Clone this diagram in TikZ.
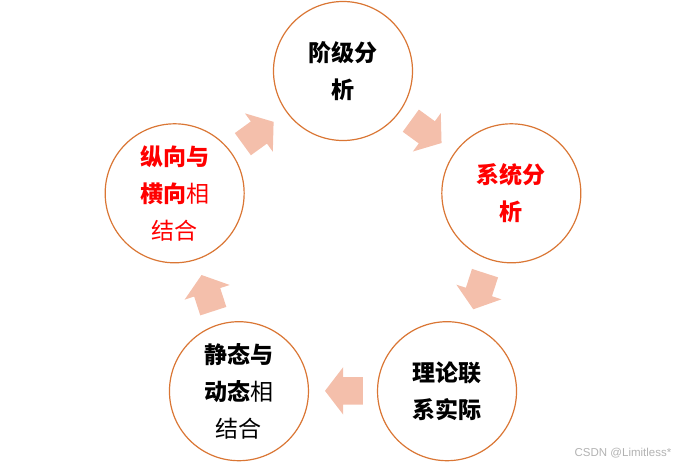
\documentclass[tikz,border=0pt]{standalone}
\usepackage{fontspec}
\usepackage{xcolor}
\usepackage{tikz}
\usetikzlibrary{shapes.arrows}
\newfontfamily\cjk{Noto Sans CJK SC}
\newfontfamily\marksans{Liberation Sans}
\definecolor{ring}{HTML}{DA7634}
\definecolor{flow}{HTML}{F4BFAB}
\definecolor{hot}{HTML}{FF0000}

\begin{document}
\begin{tikzpicture}[x=1pt, y=1pt,
    stage/.style={circle, draw=ring, line width=1.2pt, fill=white, minimum size=139pt, inner sep=0pt, align=center, font=\cjk\fontsize{23}{37}\selectfont},
    flowarrow/.style={single arrow, fill=flow, draw=none, inner xsep=0pt, inner ysep=13.5pt, single arrow head extend=10pt, single arrow tip angle=105, minimum height=38pt}
]
    \useasboundingbox (-343,-219) rectangle (343,248);

    % the five stages, clockwise from the top
    \node[stage] (jieji) at (90:177) {\textbf{阶级分}\\\textbf{析}};
    \node[stage, text=hot] (xitong) at (18:177) {\textbf{系统分}\\\textbf{析}};
    \node[stage] (lilun) at (-54:177) {\textbf{理论联}\\\textbf{系实际}};
    \node[stage] (jingtai) at (-126:177) {\textbf{静态与}\\\textbf{动态}相\\结合};
    \node[stage, text=hot] (zongxiang) at (162:177) {\textbf{纵向与}\\\textbf{横向}相\\结合};

    % arrows between the stages
    \node[flowarrow, rotate=36] (a1) at (128.5:143) {};
    \node[flowarrow, rotate=-36] (a2) at (56.5:143) {};
    \node[flowarrow, rotate=-108] (a3) at (-15.5:143) {};
    \node[flowarrow, rotate=180] (a4) at (-87.5:143) {};
    \node[flowarrow, rotate=108] (a5) at (-159.5:143) {};

    \node[font=\marksans\fontsize{11.5}{13}\selectfont, text=black!30] (mark) at (280,-205) {CSDN @Limitless*};
\end{tikzpicture}
\end{document}
